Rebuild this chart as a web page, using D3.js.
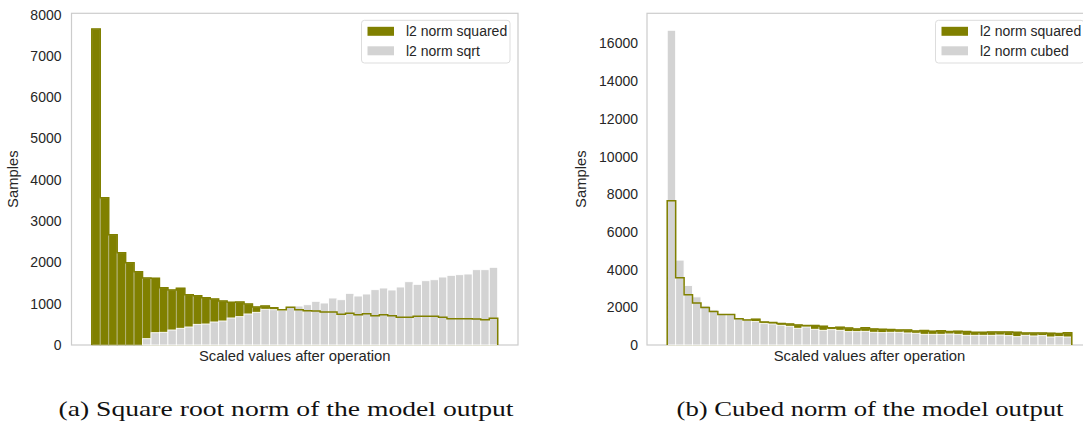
<!DOCTYPE html>
<html>
<head>
<meta charset="utf-8">
<script src="https://cdn.jsdelivr.net/npm/d3@7/dist/d3.min.js"></script>
<style>
  body { margin: 0; background: #fff; }
  svg { display: block; }
</style>
</head>
<body>
<div id="dataviz"></div>
<script>
// histogram counts, 48 bins each
const squaredCounts = [7650, 3567, 2671, 2235, 1993, 1775, 1622, 1614, 1388, 1332, 1372, 1219,
  1195, 1147, 1114, 1065, 1033, 1041, 993, 920, 944, 904, 855, 912,
  855, 831, 823, 799, 799, 742, 767, 734, 759, 710, 734, 710,
  670, 670, 694, 694, 694, 670, 638, 638, 638, 630, 613, 646];

const sqrtCounts = [0, 0, 0, 0, 0, 0, 153, 298, 307, 363, 404, 436,
  500, 508, 557, 581, 654, 686, 751, 791, 864, 855, 840, 920,
  944, 976, 1058, 1017, 1138, 1097, 1251, 1186, 1235, 1340, 1380, 1332,
  1404, 1533, 1469, 1557, 1581, 1646, 1687, 1703, 1719, 1824, 1824, 1881];

const cubedCounts = [16700, 4505, 3154, 2553, 2080, 1861, 1612, 1610, 1418, 1312, 1241, 1135,
  1117, 1046, 993, 887, 957, 833, 780, 815, 780, 709, 709, 725,
  674, 656, 674, 674, 638, 621, 567, 567, 567, 585, 567, 514,
  514, 514, 514, 530, 497, 443, 514, 479, 497, 425, 443, 425];

const yTicksA = [0, 1000, 2000, 3000, 4000, 5000, 6000, 7000, 8000];
const yTicksB = [0, 2000, 4000, 6000, 8000, 10000, 12000, 14000, 16000];
const legendA = ["l2 norm squared", "l2 norm sqrt"];
const legendB = ["l2 norm squared", "l2 norm cubed"];
const xLabel = "Scaled values after operation";
const yLabel = "Samples";
const captions = ["(a) Square root norm of the model output", "(b) Cubed norm of the model output"];

const olive = "#808000",
    grey = "#d3d3d3",
    textColor = "#262626",
    spineColor = "#cccccc",
    sans = "'Liberation Sans', Arial, sans-serif";

let svg = d3.select("#dataviz")
            .append("svg")
            .attr("width", 1083)
            .attr("height", 428);

function drawPanel(p) {
  const nBins = p.front.length;
  const g = svg.append("g");

  // matplotlib style 5% x margins
  const x = d3.scaleLinear()
    .domain([-0.05 * nBins, nBins * 1.05])
    .range([p.left, p.right]);
  const y = d3.scaleLinear()
    .domain([0, p.yMax])
    .range([p.bottom, p.top]);

  // spines
  g.append("rect")
    .attr("x", p.left).attr("y", p.top)
    .attr("width", p.right - p.left).attr("height", p.bottom - p.top)
    .attr("fill", "none").attr("stroke", spineColor).attr("stroke-width", 1.2);

  // olive bars underneath
  g.append("g").selectAll("rect")
    .data(p.front)
    .join("rect")
      .attr("x", (d, i) => x(i))
      .attr("y", d => y(d))
      .attr("width", (d, i) => x(i + 1) - x(i))
      .attr("height", d => y(0) - y(d))
      .attr("fill", olive)
      .attr("stroke", "#b4b47a")
      .attr("stroke-width", 0.9);

  // grey bars on top
  g.append("g").selectAll("rect")
    .data(p.back)
    .join("rect")
      .attr("x", (d, i) => x(i))
      .attr("y", d => y(d))
      .attr("width", (d, i) => x(i + 1) - x(i))
      .attr("height", d => y(0) - y(d))
      .attr("fill", grey)
      .attr("stroke", "#ffffff")
      .attr("stroke-width", 0.9);

  // olive step outline over everything
  const pts = [[0, 0]].concat(p.front.map((d, i) => [i, d]), [[nBins, p.front[nBins - 1]], [nBins, 0]]);
  const step = d3.line()
    .x(d => x(d[0]))
    .y(d => y(d[1]))
    .curve(d3.curveStepAfter);
  g.append("path")
    .attr("d", step(pts))
    .attr("fill", "none")
    .attr("stroke", olive)
    .attr("stroke-width", 1.5);

  // y axis
  const yAxis = g.append("g")
    .attr("transform", `translate(${p.left},0)`)
    .call(d3.axisLeft(y).tickValues(p.yTicks).tickSize(0).tickPadding(p.tickPad).tickFormat(d3.format("d")));
  yAxis.select(".domain").remove();
  yAxis.selectAll("text")
    .attr("fill", textColor)
    .style("font-family", sans)
    .style("font-size", "14px");

  g.append("text")
    .attr("transform", `translate(${p.yLabelX},${(p.top + p.bottom) / 2}) rotate(-90)`)
    .attr("text-anchor", "middle")
    .attr("fill", textColor)
    .style("font-family", sans)
    .style("font-size", "14.8px")
    .text(yLabel);

  g.append("text")
    .attr("x", (p.left + p.right) / 2)
    .attr("y", p.bottom + 15.5)
    .attr("text-anchor", "middle")
    .attr("fill", textColor)
    .style("font-family", sans)
    .style("font-size", "14.8px")
    .text(xLabel);

  // legend
  const lw = 148.5, lx = p.right - 8 - lw, ly = p.top + 7;
  const legend = g.append("g");
  legend.append("rect")
    .attr("x", lx).attr("y", ly)
    .attr("width", lw).attr("height", 42.7)
    .attr("rx", 3)
    .attr("fill", "#fff")
    .attr("stroke", "#dddddd");
  const items = legend.selectAll("g.item")
    .data(p.legend)
    .join("g")
      .attr("class", "item")
      .attr("transform", (d, i) => `translate(${lx + 6},${ly + 11 + i * 19.5})`);
  items.append("rect")
    .attr("x", 0).attr("y", -4.5)
    .attr("width", 26.5).attr("height", 9)
    .attr("fill", (d, i) => i === 0 ? olive : grey);
  items.append("text")
    .attr("x", 38.5).attr("y", 5)
    .attr("fill", textColor)
    .style("font-family", sans)
    .style("font-size", "14px")
    .text(d => d);

  // caption
  svg.append("text")
    .attr("x", p.captionX)
    .attr("y", 416)
    .attr("text-anchor", "middle")
    .attr("fill", "#111")
    .attr("textLength", p.captionW)
    .attr("lengthAdjust", "spacingAndGlyphs")
    .style("font-family", "'Liberation Serif', 'DejaVu Serif', serif")
    .style("font-size", "21px")
    .text(p.caption);
}

drawPanel({
  left: 71.5, right: 518, top: 13.3, bottom: 345,
  yMax: 8032, yTicks: yTicksA, tickPad: 10, yLabelX: 18,
  front: squaredCounts, back: sqrtCounts, legend: legendA,
  caption: captions[0], captionX: 286, captionW: 455
});

drawPanel({
  left: 647, right: 1092, top: 13.3, bottom: 345,
  yMax: 17600, yTicks: yTicksB, tickPad: 9, yLabelX: 586,
  front: squaredCounts, back: cubedCounts, legend: legendB,
  caption: captions[1], captionX: 870, captionW: 387
});
</script>
</body>
</html>
